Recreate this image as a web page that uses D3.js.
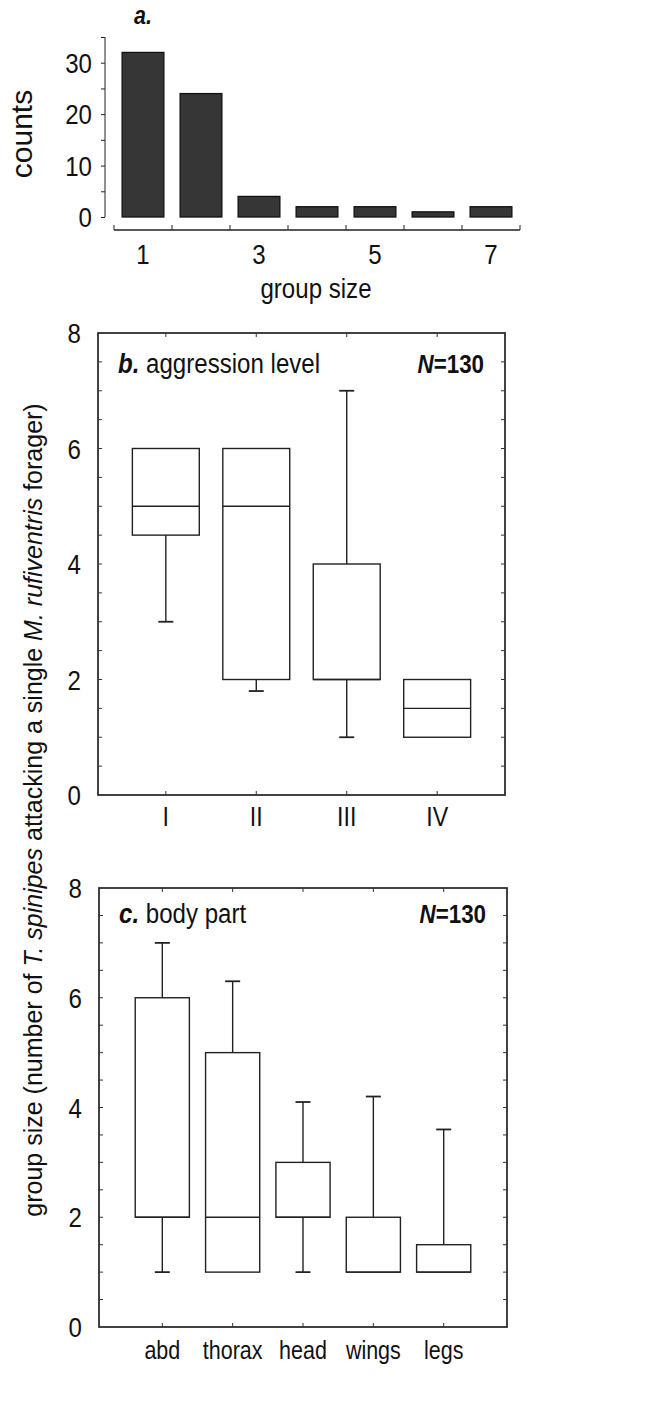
<!DOCTYPE html>
<html>
<head>
<meta charset="utf-8">
<script src="https://cdn.jsdelivr.net/npm/d3@7"></script>
<style>
  body { margin: 0; background: #fff; }
  text { font-family: "Liberation Sans", Arial, sans-serif; fill: #111; }
</style>
</head>
<body>
<script>
// panel a: histogram of group sizes
const groupSizes = [1, 2, 3, 4, 5, 6, 7];
const groupCounts = [32, 24, 4, 2, 2, 1, 2];
const groupTickLabels = [1, 3, 5, 7];
const countTicks = [0, 10, 20, 30];

// panel b: aggression level
const levels = ["I", "II", "III", "IV"];
const levelMin = [3, 1.8, 1, 1];
const levelQ1 = [4.5, 2, 2, 1];
const levelMed = [5, 5, 2, 1.5];
const levelQ3 = [6, 6, 4, 2];
const levelMax = [6, 6, 7, 2];

// panel c: body part
const parts = ["abd", "thorax", "head", "wings", "legs"];
const partMin = [1, 1, 1, 1, 1];
const partQ1 = [2, 1, 2, 1, 1];
const partMed = [2, 2, 2, 1, 1];
const partQ3 = [6, 5, 3, 2, 1.5];
const partMax = [7, 6.3, 4.1, 4.2, 3.6];

const boxTicks = [0, 2, 4, 6, 8];

const width = 655, height = 1423;
const squeeze = "scale(0.86,1)"; // the figure's lettering is a bit narrow

const svg = d3.select("body").append("svg")
  .attr("width", width)
  .attr("height", height);

// ---------- panel a ----------
const xa = d3.scaleBand().domain(groupSizes).range([114, 520])
  .paddingInner(0.28).paddingOuter(0.14);
const ya = d3.scaleLinear().domain([0, 35]).range([217, 37]);

const ga = svg.append("g");

ga.selectAll("rect.bar")
  .data(groupSizes)
  .join("rect")
  .attr("class", "bar")
  .attr("x", d => xa(d))
  .attr("width", xa.bandwidth())
  .attr("y", (d, i) => ya(groupCounts[i]))
  .attr("height", (d, i) => ya(0) - ya(groupCounts[i]))
  .attr("fill", "#363636")
  .attr("stroke", "#111")
  .attr("stroke-width", 1.3);

// y axis
const yAxisA = ga.append("g")
  .attr("transform", "translate(105,0)")
  .call(d3.axisLeft(ya).tickValues(d3.range(0, 36, 5)).tickSize(4).tickFormat(""));
yAxisA.select(".domain").attr("stroke", "#222").attr("d", `M0,${ya(35)}V${ya(0)}`);
yAxisA.selectAll(".tick line").attr("stroke", "#222");

ga.selectAll("text.ylab")
  .data(countTicks)
  .join("text")
  .attr("class", "ylab")
  .attr("text-anchor", "end")
  .attr("font-size", 28)
  .attr("transform", d => `translate(92,${ya(d) + 10}) ${squeeze}`)
  .text(d => d);

// x axis with ticks on the band edges
const edges = groupSizes.map(d => xa(d) - xa.step() * xa.paddingInner() / 2);
edges.push(520);
ga.append("line")
  .attr("x1", 114).attr("x2", 520)
  .attr("y1", 230).attr("y2", 230)
  .attr("stroke", "#222").attr("stroke-width", 1.3);
ga.selectAll("line.xt")
  .data(edges)
  .join("line")
  .attr("class", "xt")
  .attr("x1", d => d).attr("x2", d => d)
  .attr("y1", 230).attr("y2", 225)
  .attr("stroke", "#222");

ga.selectAll("text.xlab")
  .data(groupTickLabels)
  .join("text")
  .attr("class", "xlab")
  .attr("text-anchor", "middle")
  .attr("font-size", 28)
  .attr("transform", d => `translate(${xa(d) + xa.bandwidth() / 2},264) ${squeeze}`)
  .text(d => d);

ga.append("text")
  .attr("text-anchor", "middle")
  .attr("font-size", 28)
  .attr("transform", `translate(316,298) ${squeeze}`)
  .text("group size");

ga.append("text")
  .attr("text-anchor", "middle")
  .attr("font-size", 30)
  .attr("transform", "translate(32,134) rotate(-90)")
  .text("counts");

ga.append("text")
  .attr("text-anchor", "middle")
  .attr("font-size", 25)
  .attr("font-weight", "bold")
  .attr("font-style", "italic")
  .attr("transform", `translate(143,24) ${squeeze}`)
  .text("a.");

// ---------- box panels ----------
function boxPanel(opt) {
  const g = svg.append("g");
  const x = d3.scalePoint().domain(opt.cats).range([opt.left, opt.right]).padding(opt.pad);
  const y = d3.scaleLinear().domain([0, 8]).range([opt.bottom, opt.top]);
  const bw = x.step() * opt.boxFrac;
  const cap = 15;

  g.append("rect")
    .attr("x", opt.left).attr("y", opt.top)
    .attr("width", opt.right - opt.left).attr("height", opt.bottom - opt.top)
    .attr("fill", "none").attr("stroke", "#222").attr("stroke-width", 1.7);

  // inward ticks on left and right every 0.5
  const yt = d3.range(0.5, 8, 0.5);
  g.selectAll("line.lt").data(yt).join("line").attr("class", "lt")
    .attr("x1", opt.left).attr("x2", opt.left + 4)
    .attr("y1", d => y(d)).attr("y2", d => y(d))
    .attr("stroke", "#333");
  g.selectAll("line.rt").data(yt).join("line").attr("class", "rt")
    .attr("x1", opt.right).attr("x2", opt.right - 4)
    .attr("y1", d => y(d)).attr("y2", d => y(d))
    .attr("stroke", "#333");
  g.selectAll("line.tt").data(opt.cats).join("line").attr("class", "tt")
    .attr("x1", d => x(d)).attr("x2", d => x(d))
    .attr("y1", opt.top).attr("y2", opt.top + 4)
    .attr("stroke", "#333");
  g.selectAll("line.bt").data(opt.cats).join("line").attr("class", "bt")
    .attr("x1", d => x(d)).attr("x2", d => x(d))
    .attr("y1", opt.bottom).attr("y2", opt.bottom - 4)
    .attr("stroke", "#333");

  g.selectAll("text.yl").data(boxTicks).join("text").attr("class", "yl")
    .attr("text-anchor", "end")
    .attr("font-size", 28)
    .attr("transform", d => `translate(${opt.left - 17},${y(d) + 10}) ${squeeze}`)
    .text(d => d);

  g.selectAll("text.xl").data(opt.cats).join("text").attr("class", "xl")
    .attr("text-anchor", "middle")
    .attr("font-size", opt.catSize)
    .attr("transform", d => `translate(${x(d)},${opt.bottom + opt.catDy}) ${squeeze}`)
    .text(d => d);

  // title
  const t = g.append("text")
    .attr("font-size", 28)
    .attr("transform", `translate(${opt.left + 20},${opt.top + opt.titleDy}) ${squeeze}`);
  t.append("tspan").attr("font-weight", "bold").attr("font-style", "italic").text(opt.letter);
  t.append("tspan").text(" " + opt.title);

  const n = g.append("text")
    .attr("font-size", 26)
    .attr("font-weight", "bold")
    .attr("text-anchor", "end")
    .attr("transform", `translate(${opt.right - 21},${opt.top + opt.titleDy}) ${squeeze}`);
  n.append("tspan").attr("font-style", "italic").text("N");
  n.append("tspan").text("=130");

  const boxes = g.selectAll("g.box").data(opt.cats).join("g").attr("class", "box");
  const stroke = "#222", sw = 1.4;

  // whiskers, box and median
  boxes.each(function (d, i) {
    const b = d3.select(this);
    const cx = x(d);
    const segs = [];
    if (opt.max[i] > opt.q3[i]) segs.push([opt.q3[i], opt.max[i]]);
    if (opt.min[i] < opt.q1[i]) segs.push([opt.q1[i], opt.min[i]]);
    segs.forEach(s => {
      b.append("line").attr("x1", cx).attr("x2", cx)
        .attr("y1", y(s[0])).attr("y2", y(s[1])).attr("stroke", stroke).attr("stroke-width", sw);
      b.append("line").attr("x1", cx - cap / 2).attr("x2", cx + cap / 2)
        .attr("y1", y(s[1])).attr("y2", y(s[1])).attr("stroke", stroke).attr("stroke-width", 1.8);
    });
    b.append("rect")
      .attr("x", cx - bw / 2).attr("width", bw)
      .attr("y", y(opt.q3[i])).attr("height", y(opt.q1[i]) - y(opt.q3[i]))
      .attr("fill", "none").attr("stroke", stroke).attr("stroke-width", sw);
    b.append("line")
      .attr("x1", cx - bw / 2).attr("x2", cx + bw / 2)
      .attr("y1", y(opt.med[i])).attr("y2", y(opt.med[i]))
      .attr("stroke", stroke).attr("stroke-width", sw);
  });
}

boxPanel({
  cats: levels, min: levelMin, q1: levelQ1, med: levelMed, q3: levelQ3, max: levelMax,
  left: 98, right: 505, top: 333, bottom: 795, pad: 0.75, boxFrac: 0.74,
  letter: "b.", title: "aggression level", catSize: 27, catDy: 31, titleDy: 40
});

boxPanel({
  cats: parts, min: partMin, q1: partQ1, med: partMed, q3: partQ3, max: partMax,
  left: 99, right: 507, top: 888, bottom: 1327, pad: 0.9, boxFrac: 0.77,
  letter: "c.", title: "body part", catSize: 25, catDy: 32, titleDy: 35
});

// shared y label
const yl = svg.append("text")
  .attr("text-anchor", "middle")
  .attr("font-size", 25)
  .attr("transform", "translate(42,810) rotate(-90)");
yl.append("tspan").text("group size (number of ");
yl.append("tspan").attr("font-style", "italic").text("T. spinipes");
yl.append("tspan").text(" attacking a single ");
yl.append("tspan").attr("font-style", "italic").text("M. rufiventris");
yl.append("tspan").text(" forager)");
</script>
</body>
</html>
